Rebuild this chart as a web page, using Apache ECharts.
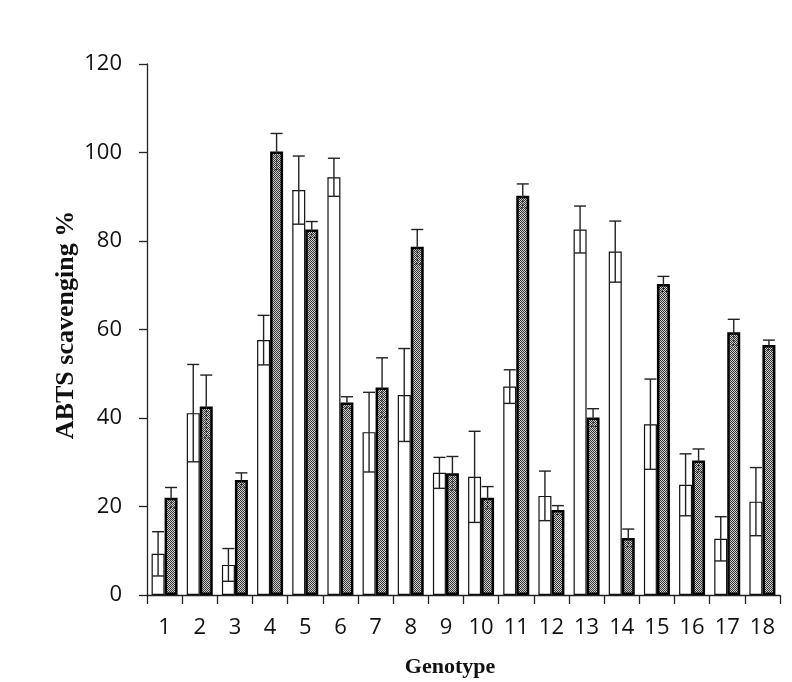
<!DOCTYPE html>
<html>
<head>
<meta charset="utf-8">
<script src="https://cdn.jsdelivr.net/npm/echarts@6/dist/echarts.min.js"></script>
<style>html,body{margin:0;padding:0;background:#fff;}#c{width:792px;height:682px;}</style>
</head>
<body>
<div id="c"></div>
<script>
const categories = ['1','2','3','4','5','6','7','8','9','10','11','12','13','14','15','16','17','18'];
const whiteMean = [9.3, 41.1, 6.8, 57.6, 91.5, 94.4, 36.8, 45.2, 27.6, 26.7, 47.1, 22.4, 82.6, 77.6, 38.6, 24.9, 12.7, 21.1];
const whiteSD   = [5.0, 11.0, 3.7, 5.6, 7.7, 4.3, 9.0, 10.5, 3.5, 10.3, 3.8, 5.6, 5.3, 6.9, 10.2, 7.0, 5.0, 7.7];
const grayMean  = [22.0, 42.6, 26.0, 100.2, 82.6, 43.5, 46.9, 78.7, 27.5, 22.0, 90.2, 19.2, 40.1, 12.9, 70.3, 30.4, 59.4, 56.5];
const graySD    = [2.3, 7.1, 1.6, 4.1, 1.8, 1.3, 6.7, 3.9, 3.8, 2.5, 2.7, 1.0, 2.0, 2.0, 1.7, 2.6, 2.9, 1.1];
const yTicks = [0, 20, 40, 60, 80, 100, 120];

const BAR_W = 13;

// dithered pattern for the dark bars
const pc = document.createElement('canvas');
pc.width = 2; pc.height = 2;
const pctx = pc.getContext('2d');
pctx.fillStyle = '#d0d0d0'; pctx.fillRect(0,0,2,2);
pctx.fillStyle = '#333333'; pctx.fillRect(0,0,1,1); pctx.fillRect(1,1,1,1);

function errData(mean, sd) {
  return mean.map((m, i) => [i, m, sd[i]]);
}
function makeErrRender(offset, dashedLower) {
  return function (params, api) {
    const i = api.value(0), m = api.value(1), s = api.value(2);
    const pm = api.coord([i, m]);
    const pt = api.coord([i, m + s]);
    const pb = api.coord([i, m - s]);
    const x = pm[0] + offset;
    const half = 6;
    const style = { stroke: '#222', lineWidth: 1.4 };
    const lowerStyle = dashedLower ? { stroke: '#222', lineWidth: 1.2, lineDash: [2, 2] } : style;
    return {
      type: 'group',
      children: [
        { type: 'line', shape: { x1: x, y1: pt[1], x2: x, y2: pm[1] }, style: style },
        { type: 'line', shape: { x1: x - half, y1: pt[1], x2: x + half, y2: pt[1] }, style: style },
        { type: 'line', shape: { x1: x, y1: pm[1], x2: x, y2: pb[1] }, style: lowerStyle },
        { type: 'line', shape: { x1: x - half, y1: pb[1], x2: x + half, y2: pb[1] }, style: lowerStyle }
      ]
    };
  };
}

const chart = echarts.init(document.getElementById('c'), null, { renderer: 'canvas' });
chart.setOption({
  animation: false,
  backgroundColor: '#fff',
  grid: { left: 147, right: 12, top: 64, bottom: 87 },
  xAxis: {
    type: 'category',
    data: categories,
    boundaryGap: true,
    axisLine: { lineStyle: { color: '#222', width: 1.3 } },
    axisTick: { show: true, inside: false, length: 9, alignWithLabel: false, lineStyle: { color: '#222', width: 1.3 } },
    axisLabel: { margin: 22, fontFamily: 'Open Sans', fontSize: 22, color: '#111', interval: 0 },
    splitLine: { show: false }
  },
  yAxis: {
    type: 'value',
    min: yTicks[0],
    max: yTicks[yTicks.length - 1],
    interval: 20,
    axisLine: { show: true, lineStyle: { color: '#222', width: 1.3 } },
    axisTick: { show: true, inside: false, length: 8, lineStyle: { color: '#222', width: 1.3 } },
    axisLabel: { margin: 25, fontFamily: 'Open Sans', fontSize: 22, color: '#111' },
    splitLine: { show: false }
  },
  graphic: [
    {
      type: 'text', x: 66, y: 325, rotation: Math.PI / 2,
      style: { text: 'ABTS scavenging %', font: 'bold 26px "Liberation Serif", "Times New Roman", serif', fill: '#111', align: 'center', verticalAlign: 'middle' }
    },
    {
      type: 'text', x: 450, y: 667,
      style: { text: 'Genotype', font: 'bold 22px "Liberation Serif", "Times New Roman", serif', fill: '#111', align: 'center', verticalAlign: 'middle' }
    }
  ],
  series: [
    {
      type: 'bar', name: 'white', data: whiteMean, barWidth: BAR_W, barGap: '0%',
      itemStyle: { color: '#fff', borderColor: '#111', borderWidth: 1.2 },
      z: 2
    },
    {
      type: 'bar', name: 'gray', data: grayMean, barWidth: BAR_W, barGap: '0%',
      itemStyle: { color: { image: pc, repeat: 'repeat' }, borderColor: '#000', borderWidth: 2.5 },
      z: 2
    },
    {
      type: 'custom', name: 'errW', data: errData(whiteMean, whiteSD),
      renderItem: makeErrRender(-BAR_W / 2, false),
      encode: { x: 0, y: 1 }, z: 5
    },
    {
      type: 'custom', name: 'errG', data: errData(grayMean, graySD),
      renderItem: makeErrRender(BAR_W / 2, true),
      encode: { x: 0, y: 1 }, z: 5
    }
  ]
});
</script>
</body>
</html>
